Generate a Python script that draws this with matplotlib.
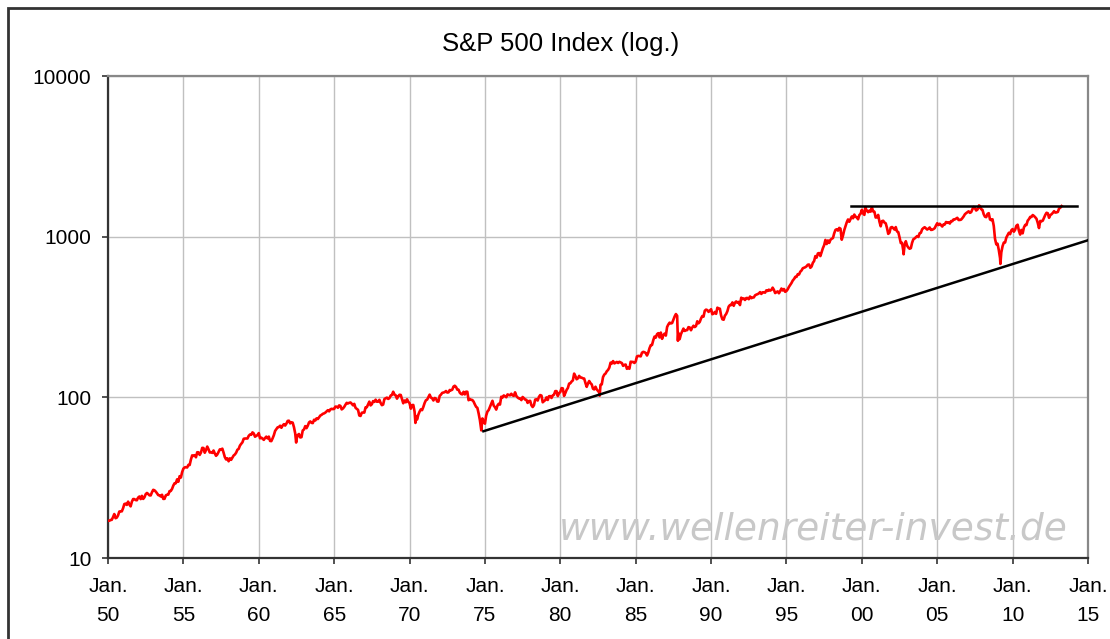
import matplotlib
matplotlib.use("Agg")
import matplotlib.pyplot as plt
from matplotlib.patches import Rectangle
import numpy as np

plt.rcParams['font.family'] = ['Liberation Sans', 'DejaVu Sans']

# S&P 500 Monatsschlusskurse, 1950 - März 2013
first_year = 1950
monthly_close = [
    [17.05, 17.22, 17.29, 17.96, 18.78, 17.69, 17.84, 18.42, 19.45, 19.53, 19.51, 20.41],
    [21.66, 21.80, 21.40, 22.43, 21.52, 20.96, 22.40, 23.28, 23.26, 22.94, 22.88, 23.77],
    [24.14, 23.26, 24.37, 23.32, 23.86, 24.96, 25.40, 25.03, 24.54, 24.52, 25.66, 26.57],
    [26.38, 25.90, 25.29, 24.62, 24.54, 24.14, 24.75, 23.32, 23.35, 24.54, 24.76, 24.81],
    [26.08, 26.15, 26.94, 28.26, 29.19, 29.21, 30.88, 29.83, 32.31, 31.68, 34.24, 35.98],
    [36.63, 36.76, 36.58, 37.96, 37.91, 41.03, 43.52, 43.18, 43.67, 42.34, 45.51, 45.48],
    [43.82, 45.34, 48.48, 48.38, 45.20, 46.97, 49.39, 47.51, 45.35, 45.58, 45.08, 46.67],
    [44.72, 43.26, 44.11, 45.74, 47.43, 47.37, 47.91, 45.22, 42.42, 41.06, 41.72, 39.99],
    [41.70, 40.84, 42.10, 43.44, 44.09, 45.24, 47.19, 47.75, 50.06, 51.33, 52.48, 55.21],
    [55.42, 55.41, 55.44, 57.59, 58.68, 58.47, 60.51, 59.60, 56.88, 57.52, 58.28, 59.89],
    [55.61, 56.12, 55.34, 54.37, 55.83, 56.92, 55.51, 56.96, 53.52, 53.39, 55.54, 58.11],
    [61.78, 63.44, 65.06, 65.31, 66.56, 64.64, 66.76, 68.07, 66.73, 68.62, 71.32, 71.55],
    [68.84, 69.96, 69.55, 65.24, 59.63, 54.75, 58.23, 59.12, 56.27, 56.52, 62.26, 63.10],
    [66.20, 64.29, 66.57, 69.80, 70.80, 69.37, 69.13, 72.50, 71.70, 74.01, 73.23, 75.02],
    [77.04, 77.80, 78.98, 79.46, 80.37, 81.69, 83.18, 81.83, 84.18, 84.86, 84.42, 84.75],
    [87.56, 87.43, 86.16, 89.11, 88.42, 84.12, 85.25, 87.17, 89.96, 92.42, 91.61, 92.43],
    [92.88, 91.22, 89.23, 91.06, 86.13, 84.74, 83.60, 77.10, 76.56, 80.20, 80.45, 80.33],
    [86.61, 86.78, 90.20, 94.01, 89.08, 90.64, 94.75, 93.64, 96.71, 93.90, 94.00, 96.47],
    [92.24, 89.36, 90.20, 97.59, 98.68, 99.58, 97.74, 98.86, 102.67, 103.41, 108.37, 103.86],
    [103.01, 98.13, 101.51, 103.69, 103.46, 97.71, 91.83, 95.51, 93.12, 97.24, 93.81, 92.06],
    [85.02, 89.50, 89.63, 81.52, 76.55, 72.72, 78.05, 81.52, 84.21, 83.25, 87.20, 92.15],
    [95.88, 96.75, 100.31, 103.95, 99.63, 98.70, 95.58, 99.03, 98.34, 94.23, 93.99, 102.09],
    [103.94, 106.57, 107.20, 107.67, 109.53, 107.14, 107.39, 111.09, 110.55, 111.58, 116.67, 118.05],
    [116.03, 111.68, 111.52, 106.97, 104.95, 104.26, 108.22, 104.25, 108.43, 108.29, 95.96, 97.55],
    [96.57, 96.22, 93.98, 90.31, 87.28, 86.00, 79.31, 72.15, 63.54, 73.90, 69.97, 68.56],
    [76.98, 81.59, 83.36, 87.30, 91.15, 95.19, 88.75, 86.88, 83.87, 89.04, 91.24, 90.19],
    [100.86, 99.71, 102.77, 101.64, 100.18, 104.28, 103.44, 102.91, 105.24, 102.90, 102.10, 107.46],
    [102.03, 99.82, 98.42, 98.44, 96.12, 100.48, 98.85, 96.77, 96.53, 92.34, 94.83, 95.10],
    [89.25, 87.04, 89.21, 96.83, 97.24, 95.53, 100.68, 103.29, 102.54, 93.15, 94.70, 96.11],
    [99.93, 96.28, 101.59, 101.76, 99.08, 102.91, 103.81, 109.32, 109.32, 101.82, 106.16, 107.94],
    [114.16, 113.66, 102.09, 106.29, 111.24, 114.24, 121.67, 122.38, 125.46, 127.47, 140.52, 135.76],
    [129.55, 131.27, 136.00, 132.81, 132.59, 131.21, 130.92, 122.79, 116.18, 121.89, 126.35, 122.55],
    [120.40, 113.11, 111.96, 116.44, 111.88, 109.61, 107.09, 119.51, 120.42, 133.71, 138.54, 140.64],
    [145.30, 148.06, 152.96, 164.42, 162.39, 168.11, 162.56, 164.40, 166.07, 163.55, 166.40, 164.93],
    [163.41, 157.06, 159.18, 160.05, 150.55, 153.18, 150.66, 166.68, 166.10, 166.09, 163.58, 167.24],
    [179.63, 181.18, 180.66, 179.83, 189.55, 191.85, 190.92, 188.63, 182.08, 189.82, 202.17, 211.28],
    [211.78, 226.92, 238.90, 235.52, 247.35, 250.84, 236.12, 252.93, 231.32, 243.98, 249.22, 242.17],
    [274.08, 284.20, 291.70, 288.36, 290.10, 304.00, 318.66, 329.80, 321.83, 251.79, 230.30, 247.08],
    [257.07, 267.82, 258.89, 261.33, 262.16, 273.50, 272.02, 261.52, 271.91, 278.97, 273.70, 277.72],
    [297.47, 288.86, 294.87, 309.64, 320.52, 317.98, 346.08, 351.45, 349.15, 340.36, 345.99, 353.40],
    [329.08, 331.89, 339.94, 330.80, 361.23, 358.02, 356.15, 322.56, 306.05, 304.00, 322.22, 330.22],
    [343.93, 367.07, 375.22, 375.35, 389.83, 371.16, 387.81, 395.43, 387.86, 392.46, 375.22, 417.09],
    [408.79, 412.70, 403.69, 414.95, 415.35, 408.14, 424.21, 414.03, 417.80, 418.68, 431.35, 435.71],
    [438.78, 443.38, 451.67, 440.19, 450.19, 450.53, 448.13, 463.56, 458.93, 467.83, 461.79, 466.45],
    [481.61, 467.14, 445.77, 450.91, 456.50, 444.27, 458.26, 475.49, 462.69, 472.35, 453.69, 459.27],
    [470.42, 487.39, 500.71, 514.71, 533.40, 544.75, 562.06, 561.88, 584.41, 581.50, 605.37, 615.93],
    [636.02, 640.43, 645.50, 654.17, 669.12, 670.63, 639.95, 651.99, 687.31, 705.27, 757.02, 740.74],
    [786.16, 790.82, 757.12, 801.34, 848.28, 885.14, 954.29, 899.47, 947.28, 914.62, 955.40, 970.43],
    [980.28, 1049.34, 1101.75, 1111.75, 1090.82, 1133.84, 1120.67, 957.28, 1017.01, 1098.67, 1163.63, 1229.23],
    [1279.64, 1238.33, 1286.37, 1335.18, 1301.84, 1372.71, 1328.72, 1320.41, 1282.71, 1362.93, 1388.91, 1469.25],
    [1394.46, 1366.42, 1498.58, 1452.43, 1420.60, 1454.60, 1430.83, 1517.68, 1436.51, 1429.40, 1314.95, 1320.28],
    [1366.01, 1239.94, 1160.33, 1249.46, 1255.82, 1224.42, 1211.23, 1133.58, 1040.94, 1059.78, 1139.45, 1148.08],
    [1130.20, 1106.73, 1147.39, 1076.92, 1067.14, 989.82, 911.62, 916.07, 815.28, 885.76, 936.31, 879.82],
    [855.70, 841.15, 848.18, 916.92, 963.59, 974.50, 990.31, 1008.01, 995.97, 1050.71, 1058.20, 1111.92],
    [1131.13, 1144.94, 1126.21, 1107.30, 1120.68, 1140.84, 1101.72, 1104.24, 1114.58, 1130.20, 1173.82, 1211.92],
    [1181.27, 1203.60, 1180.59, 1156.85, 1191.50, 1191.33, 1234.18, 1220.33, 1228.81, 1207.01, 1249.48, 1248.29],
    [1280.08, 1280.66, 1294.83, 1310.61, 1270.09, 1270.20, 1276.66, 1303.82, 1335.85, 1377.94, 1400.63, 1418.30],
    [1438.24, 1406.82, 1420.86, 1482.37, 1530.62, 1503.35, 1455.27, 1473.99, 1526.75, 1549.38, 1481.14, 1468.36],
    [1378.55, 1330.63, 1322.70, 1385.59, 1400.38, 1280.00, 1267.38, 1282.83, 1166.36, 968.75, 896.24, 903.25],
    [825.88, 735.09, 797.87, 872.81, 919.14, 919.32, 987.48, 1020.62, 1057.08, 1036.19, 1095.63, 1115.10],
    [1073.87, 1104.49, 1169.43, 1186.69, 1089.41, 1030.71, 1101.60, 1049.33, 1141.20, 1183.26, 1180.55, 1257.64],
    [1286.12, 1327.22, 1325.83, 1363.61, 1345.20, 1320.64, 1292.28, 1218.89, 1131.42, 1253.30, 1246.96, 1257.60],
    [1312.41, 1365.68, 1408.47, 1397.91, 1310.33, 1362.16, 1379.32, 1406.58, 1440.67, 1412.16, 1416.18, 1426.19],
    [1498.11, 1514.68, 1550.00],
]

# markante Tagesextreme (Dezimaljahr, Kurs)
extreme_dates = [1962.48, 1970.39, 1974.76, 1982.61, 1987.80, 2000.23, 2002.77, 2007.77, 2009.19]
extreme_values = [52.32, 69.29, 62.28, 102.42, 224.84, 1527.46, 776.76, 1565.15, 676.53]

# Trendlinien
trend_x = [1974.9, 2015.0]
trend_y = [61.5, 950.0]
top_x = [1999.25, 2014.3]
top_y = [1553.0, 1553.0]

tick_years = list(range(1950, 2020, 5))
y_ticks = [10, 100, 1000, 10000]

# Zeitreihe zusammensetzen
dates, values = [], []
for i, row in enumerate(monthly_close):
    for m, v in enumerate(row):
        dates.append(first_year + i + (m + 1) / 12.0)
        values.append(v)
dates = [first_year] + dates
values = [17.05] + values
dates += extreme_dates
values += extreme_values
order = np.argsort(dates)
dates = np.array(dates)[order]
values = np.array(values)[order]

fig = plt.figure(figsize=(11.1, 6.39), dpi=100)
ax = fig.add_axes([108 / 1110, 1 - 558 / 639, 980 / 1110, 482 / 639])

# äußerer Rahmen
fig.patches.append(Rectangle((8 / 1110, -0.1), 1.2, 1 - 8 / 639 + 0.1, transform=fig.transFigure,
                             fill=False, edgecolor='#333333', linewidth=2.0))

ax.plot(dates, values, color='red', linewidth=1.9, zorder=3)
ax.plot(trend_x, trend_y, color='black', linewidth=1.8, zorder=4)
ax.plot(top_x, top_y, color='black', linewidth=1.8, zorder=4)

ax.set_yscale('log')
ax.set_ylim(10, 10000)
ax.set_xlim(1950, 2015)
ax.set_yticks(y_ticks)
ax.set_yticklabels([str(t) for t in y_ticks])
ax.yaxis.set_minor_locator(matplotlib.ticker.NullLocator())
ax.set_xticks(tick_years)
ax.set_xticklabels([f"Jan.\n{y % 100:02d}" for y in tick_years], linespacing=1.65)

ax.grid(True, color='#c0c0c0', linewidth=1.0)
ax.set_axisbelow(True)
for side in ['left', 'bottom']:
    ax.spines[side].set_color('#333333')
    ax.spines[side].set_linewidth(1.6)
for side in ['top', 'right']:
    ax.spines[side].set_color('#888888')
    ax.spines[side].set_linewidth(1.6)

ax.tick_params(axis='both', direction='out', length=4, width=1.2, color='#333333',
               labelsize=15, labelcolor='black')
ax.tick_params(axis='x', pad=10)
ax.tick_params(axis='y', pad=8)

fig.text(561 / 1110, 1 - 44 / 639, "S&P 500 Index (log.)", ha='center', va='center', fontsize=18.5)

ax.text(0.979, 0.06, "www.wellenreiter-invest.de", transform=ax.transAxes, ha='right', va='center',
        fontsize=27, style='italic', color='#c8c8c8', zorder=2,
        family=['DejaVu Sans'])

fig.savefig("out.png", dpi=100)
